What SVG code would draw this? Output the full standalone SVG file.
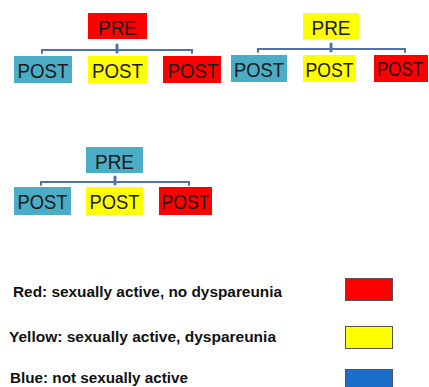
<svg xmlns="http://www.w3.org/2000/svg" width="429" height="387" viewBox="0 0 429 387">
<style>
.red{fill:#ff0000}
.yel{fill:#ffff00}
.blu{fill:#4bacc6}
.lbl{font-family:"Liberation Sans",Arial,sans-serif;font-size:21px;fill:#1a1a1a;text-anchor:middle}
.leg{font-family:"Liberation Sans",Arial,sans-serif;font-size:14.5px;font-weight:bold;fill:#111}
.con{stroke:#4f72a8;stroke-width:2;fill:none;stroke-linecap:round}
.tick{stroke:#4f72a8;stroke-width:3;stroke-linecap:round}
.lbox{stroke:#555;stroke-width:1}
</style>
<rect width="429" height="387" fill="#fff"/>
<g id="connectors">
<path class="con" d="M42,53 V50 H192 V53"/>
<line class="tick" x1="117" y1="45" x2="117" y2="52"/>
<path class="con" d="M258,52 V49 H405 V52"/>
<line class="tick" x1="331" y1="44" x2="331" y2="51"/>
<path class="con" d="M41,185 V182 H189 V185"/>
<line class="tick" x1="115" y1="177" x2="115" y2="184"/>
</g>
<g id="pre1"><rect class="red" x="88" y="13" width="59" height="26"/><text class="lbl" x="117.5" y="34.5" textLength="39" lengthAdjust="spacingAndGlyphs">PRE</text></g>
<g id="post1a"><rect class="blu" x="14" y="56" width="58" height="27"/><text class="lbl" x="43" y="77.5" textLength="51" lengthAdjust="spacingAndGlyphs">POST</text></g>
<g id="post1b"><rect class="yel" x="88" y="56" width="59" height="27"/><text class="lbl" x="117.5" y="77.5" textLength="51" lengthAdjust="spacingAndGlyphs">POST</text></g>
<g id="post1c"><rect class="red" x="163" y="56" width="58" height="27"/><text class="lbl" x="193" y="77.5" textLength="51" lengthAdjust="spacingAndGlyphs">POST</text></g>
<g id="pre2"><rect class="yel" x="303" y="13" width="56" height="26"/><text class="lbl" x="331" y="34.5" textLength="39" lengthAdjust="spacingAndGlyphs">PRE</text></g>
<g id="post2a"><rect class="blu" x="231" y="55" width="56" height="27"/><text class="lbl" x="259" y="76.5" textLength="50" lengthAdjust="spacingAndGlyphs">POST</text></g>
<g id="post2b"><rect class="yel" x="303" y="55" width="53" height="27"/><text class="lbl" x="329.5" y="76.5" textLength="48" lengthAdjust="spacingAndGlyphs">POST</text></g>
<g id="post2c"><rect class="red" x="374" y="55" width="54" height="27"/><text class="lbl" x="400" y="76" style="font-size:19.5px" textLength="46" lengthAdjust="spacingAndGlyphs">POST</text></g>
<g id="pre3"><rect class="blu" x="86" y="147" width="57" height="26"/><text class="lbl" x="114.5" y="168.5" textLength="39" lengthAdjust="spacingAndGlyphs">PRE</text></g>
<g id="post3a"><rect class="blu" x="14" y="187" width="57" height="28"/><text class="lbl" x="42.5" y="209" textLength="50" lengthAdjust="spacingAndGlyphs">POST</text></g>
<g id="post3b"><rect class="yel" x="86" y="187" width="57" height="28"/><text class="lbl" x="114.5" y="209" textLength="50" lengthAdjust="spacingAndGlyphs">POST</text></g>
<g id="post3c"><rect class="red" x="159" y="187" width="53" height="28"/><text class="lbl" x="185.5" y="209" textLength="48" lengthAdjust="spacingAndGlyphs">POST</text></g>
<g id="legend">
<text class="leg" x="13" y="297" textLength="269" lengthAdjust="spacingAndGlyphs">Red: sexually active, no dyspareunia</text>
<rect class="lbox" x="345.5" y="278.5" width="47" height="22" fill="#ff0000"/>
<text class="leg" x="9" y="342" textLength="267" lengthAdjust="spacingAndGlyphs">Yellow: sexually active, dyspareunia</text>
<rect class="lbox" x="345.5" y="326.5" width="47" height="22" fill="#ffff00"/>
<text class="leg" x="10" y="383" textLength="178" lengthAdjust="spacingAndGlyphs">Blue: not sexually active</text>
<rect class="lbox" x="345.5" y="369.5" width="47" height="22" fill="#1a6fc8"/>
</g>
</svg>
